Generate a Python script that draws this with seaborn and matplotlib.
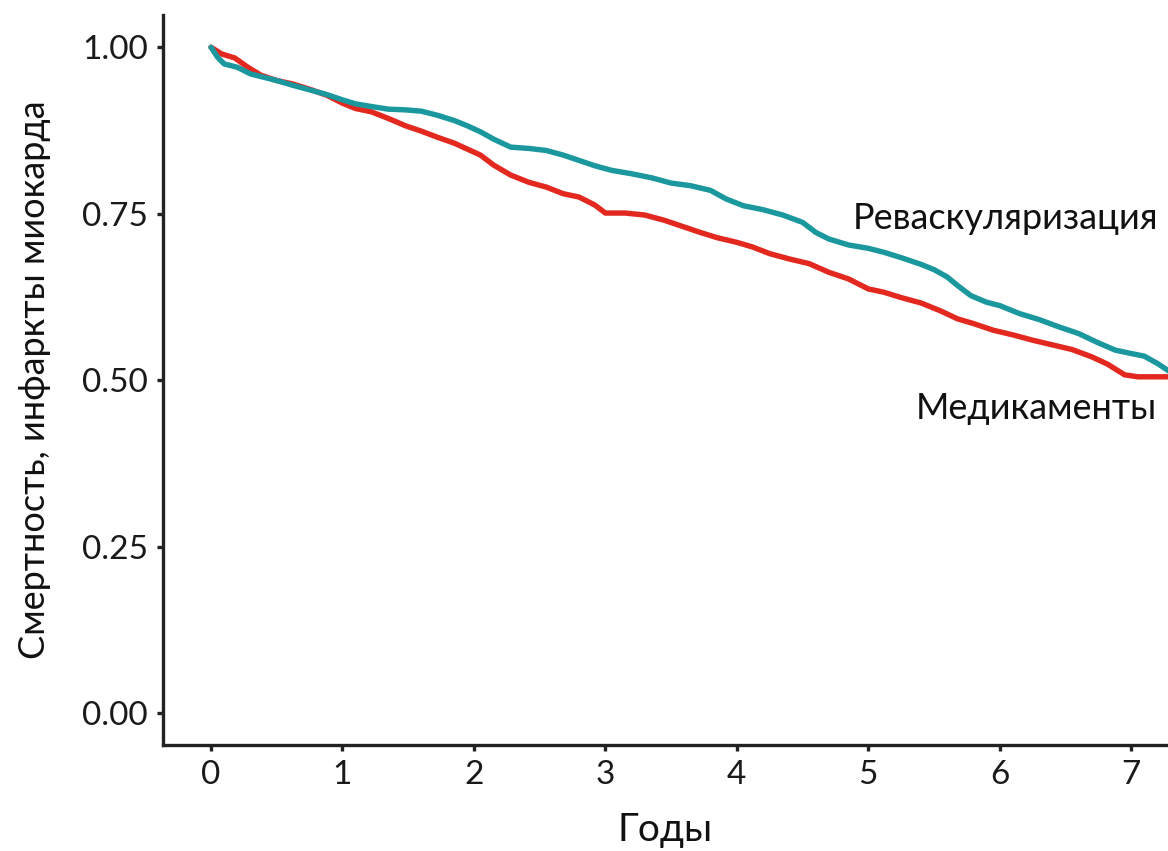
import matplotlib
matplotlib.use("Agg")
import matplotlib.pyplot as plt
import seaborn as sns
import pandas as pd

# ---- data ----
years_med = [0, 0.08, 0.18, 0.28, 0.38, 0.5, 0.62, 0.75, 0.88, 1.0, 1.1, 1.22, 1.35, 1.48, 1.6,
             1.72, 1.85, 1.95, 2.05, 2.15, 2.28, 2.42, 2.55, 2.68, 2.8, 2.92, 3.0, 3.15, 3.3,
             3.45, 3.6, 3.72, 3.85, 4.0, 4.12, 4.25, 4.4, 4.55, 4.7, 4.85, 5.0, 5.12, 5.25,
             5.4, 5.55, 5.68, 5.8, 5.95, 6.1, 6.25, 6.4, 6.55, 6.7, 6.82, 6.95, 7.05, 7.3]
surv_med = [1.000, 0.990, 0.984, 0.970, 0.958, 0.950, 0.945, 0.937, 0.928, 0.916, 0.908, 0.903,
            0.893, 0.882, 0.874, 0.865, 0.856, 0.847, 0.838, 0.823, 0.808, 0.797, 0.790, 0.780,
            0.775, 0.763, 0.751, 0.751, 0.748, 0.740, 0.730, 0.722, 0.714, 0.707, 0.700, 0.690,
            0.682, 0.675, 0.662, 0.652, 0.637, 0.632, 0.624, 0.616, 0.604, 0.592, 0.585, 0.575,
            0.568, 0.560, 0.553, 0.546, 0.535, 0.524, 0.508, 0.505, 0.505]

years_rev = [0, 0.05, 0.1, 0.2, 0.3, 0.4, 0.5, 0.62, 0.75, 0.88, 1.0, 1.1, 1.22, 1.35, 1.48,
             1.6, 1.72, 1.85, 1.95, 2.05, 2.15, 2.28, 2.42, 2.55, 2.68, 2.8, 2.92, 3.05, 3.2,
             3.35, 3.5, 3.65, 3.8, 3.92, 4.05, 4.2, 4.35, 4.5, 4.6, 4.7, 4.85, 5.0, 5.12, 5.25,
             5.4, 5.5, 5.6, 5.68, 5.78, 5.9, 6.0, 6.15, 6.3, 6.45, 6.6, 6.75, 6.88, 7.0, 7.1,
             7.2, 7.3]
surv_rev = [1.000, 0.985, 0.975, 0.970, 0.960, 0.955, 0.950, 0.943, 0.936, 0.929, 0.921, 0.915,
            0.911, 0.907, 0.906, 0.904, 0.898, 0.890, 0.882, 0.873, 0.862, 0.850, 0.848, 0.845,
            0.838, 0.830, 0.822, 0.815, 0.810, 0.804, 0.796, 0.792, 0.785, 0.772, 0.762, 0.756,
            0.748, 0.737, 0.722, 0.712, 0.703, 0.698, 0.692, 0.684, 0.674, 0.666, 0.655, 0.642,
            0.627, 0.617, 0.612, 0.600, 0.591, 0.580, 0.570, 0.556, 0.545, 0.540, 0.536, 0.525,
            0.512]

x_ticks = [0, 1, 2, 3, 4, 5, 6, 7]
y_ticks = [0.00, 0.25, 0.50, 0.75, 1.00]
y_tick_labels = ["0.00", "0.25", "0.50", "0.75", "1.00"]
label_rev = "Реваскуляризация"
label_med = "Медикаменты"
x_title = "Годы"
y_title = "Смертность, инфаркты миокарда"

# ---- plot ----
sns.set_style("white")
plt.rcParams['font.family'] = ['Lato', 'DejaVu Sans']

fig = plt.figure(figsize=(11.68, 8.51), dpi=100)
ax = fig.add_axes([0.1396, 0.1246, 0.8604, 0.8574])

df_med = pd.DataFrame({"t": years_med, "s": surv_med})
df_rev = pd.DataFrame({"t": years_rev, "s": surv_rev})

sns.lineplot(data=df_med, x="t", y="s", ax=ax, color="#E3281F", linewidth=3.9,
             estimator=None, sort=False)
sns.lineplot(data=df_rev, x="t", y="s", ax=ax, color="#1B979E", linewidth=3.9,
             estimator=None, sort=False)

ax.set_xlim(-0.365, 7.28)
ax.set_ylim(-0.048, 1.048)
ax.set_xticks(x_ticks)
ax.set_xticklabels([str(v) for v in x_ticks])
ax.set_yticks(y_ticks)
ax.set_yticklabels(y_tick_labels)

for side in ["top", "right"]:
    ax.spines[side].set_visible(False)
for side in ["left", "bottom"]:
    ax.spines[side].set_color("#222222")
    ax.spines[side].set_linewidth(2.4)

ax.tick_params(axis="both", which="major", direction="out", length=4, width=2.4,
               color="#222222", labelsize=24, labelcolor="#1a1a1a", pad=7,
               left=True, bottom=True)

ax.set_xlabel(x_title, fontsize=28, color="#111111", labelpad=16)
ax.set_ylabel(y_title, fontsize=26, color="#111111", labelpad=22)

ax.text(7.21, 0.743, label_rev, ha="right", va="center", fontsize=26, color="#111111")
ax.text(7.20, 0.458, label_med, ha="right", va="center", fontsize=26, color="#111111")

fig.savefig("out.png", dpi=100, facecolor="white")
